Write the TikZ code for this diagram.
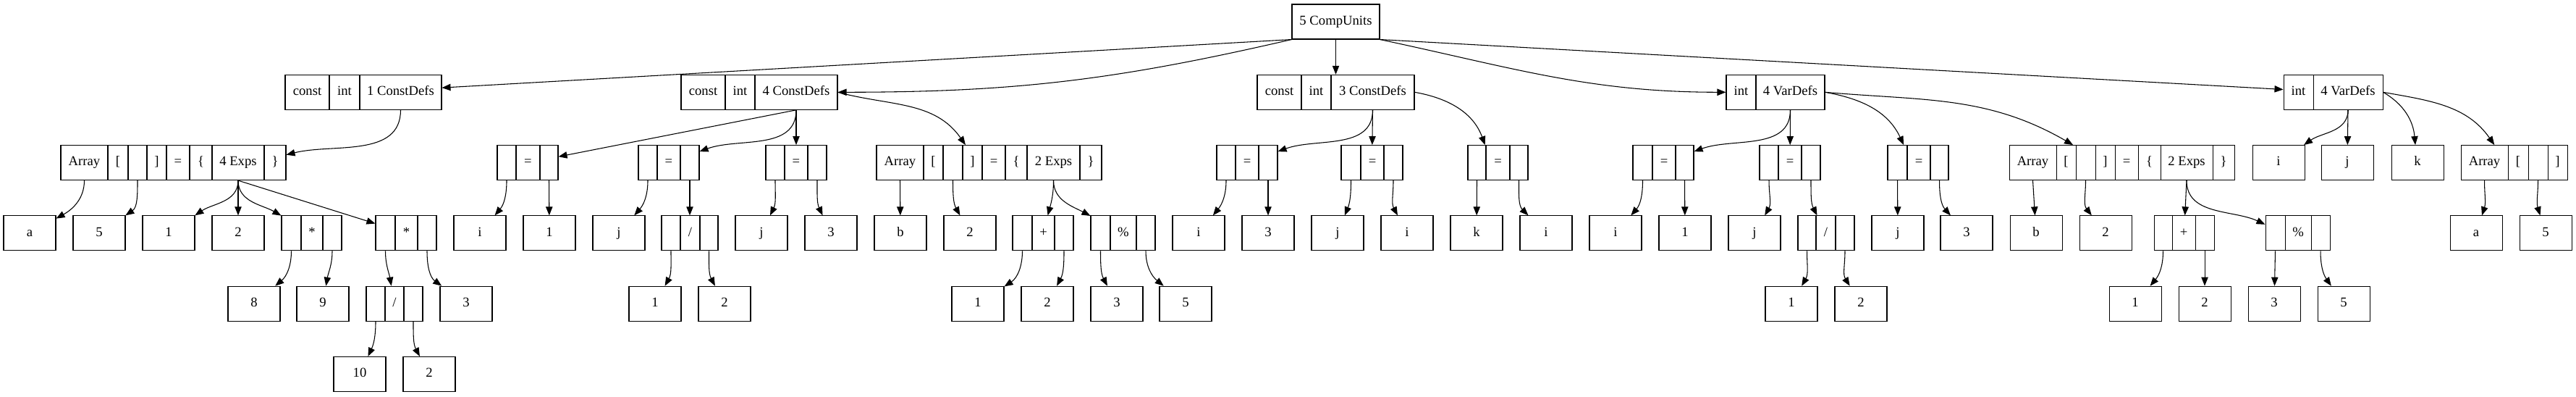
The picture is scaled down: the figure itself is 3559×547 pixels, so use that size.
\documentclass[tikz,border=0pt]{standalone}
\usepackage{fontspec}
\setmainfont{Liberation Serif}
\usetikzlibrary{arrows.meta}
\newcommand\gvcell[5]{\node[box, minimum width={0.75pt*(#3-#2)}] (#1) at ({(#2+#3)/2},#4) {#5};}
\newcommand\gvleaf[4]{\gvcell{#1}{#2}{#2+72}{#3}{#4}}
\newcommand\gvop[7]{\gvcell{#1}{#2}{#5}{#6}{}\gvcell{#1l}{#2}{#3}{#6}{}\gvcell{#1m}{#3}{#4}{#6}{#7}\gvcell{#1r}{#4}{#5}{#6}{}}
\def\rkA{517}\def\rkB{419.7}\def\rkC{322.4}\def\rkD{225.1}\def\rkE{127.8}\def\rkF{30.5}
\begin{document}
\begin{tikzpicture}[x=0.75pt,y=0.75pt,
  box/.style={draw, line width=0.8pt, minimum height=36pt, inner sep=0pt, text height=9.5pt, text depth=3pt, font=\fontsize{14pt}{16pt}\selectfont},
  gvedge/.style={-{Triangle[length=9pt,width=7pt]}, line width=0.8pt},
  dn/.style={out=-90,in=#1}]
\useasboundingbox (0,0) rectangle (3559,547);
% rank 0
\gvcell{cu}{1785}{1906}{\rkA}{5 CompUnits}
% rank 1
\gvcell{cd1}{394}{610}{\rkB}{}
\gvcell{cd1a}{394}{455}{\rkB}{const}
\gvcell{cd1b}{455}{497}{\rkB}{int}
\gvcell{cd1c}{497}{610}{\rkB}{1 ConstDefs}
\gvcell{cd4}{941}{1157}{\rkB}{}
\gvcell{cd4a}{941}{1002}{\rkB}{const}
\gvcell{cd4b}{1002}{1043}{\rkB}{int}
\gvcell{cd4c}{1043}{1157}{\rkB}{4 ConstDefs}
\gvcell{cd3}{1737}{1954}{\rkB}{}
\gvcell{cd3a}{1737}{1798}{\rkB}{const}
\gvcell{cd3b}{1798}{1839}{\rkB}{int}
\gvcell{cd3c}{1839}{1954}{\rkB}{3 ConstDefs}
\gvcell{vda}{2385}{2521}{\rkB}{}
\gvcell{vdaa}{2385}{2426}{\rkB}{int}
\gvcell{vdac}{2426}{2521}{\rkB}{4 VarDefs}
\gvcell{vdb}{3155}{3292}{\rkB}{}
\gvcell{vdba}{3155}{3196}{\rkB}{int}
\gvcell{vdbc}{3196}{3292}{\rkB}{4 VarDefs}
% rank 2
\gvcell{ar1}{84}{395}{\rkC}{}
\gvcell{ar1a}{84}{149}{\rkC}{Array}
\gvcell{ar1b}{149}{177}{\rkC}{[}
\gvcell{ar1c}{177}{203}{\rkC}{}
\gvcell{ar1d}{203}{230}{\rkC}{]}
\gvcell{ar1e}{230}{262}{\rkC}{=}
\gvcell{ar1f}{262}{293}{\rkC}{\{}
\gvcell{ar1g}{293}{365}{\rkC}{4 Exps}
\gvcell{ar1h}{365}{395}{\rkC}{\}}
\gvop{eqA}{687}{713}{746}{771}{\rkC}{=}
\gvop{eqB}{882}{908}{940}{966}{\rkC}{=}
\gvop{eqC}{1058}{1084}{1116}{1142}{\rkC}{=}
\gvcell{ar4}{1211}{1522}{\rkC}{}
\gvcell{ar4a}{1211}{1276}{\rkC}{Array}
\gvcell{ar4b}{1276}{1303}{\rkC}{[}
\gvcell{ar4c}{1303}{1330}{\rkC}{}
\gvcell{ar4d}{1330}{1357}{\rkC}{]}
\gvcell{ar4e}{1357}{1389}{\rkC}{=}
\gvcell{ar4f}{1389}{1419}{\rkC}{\{}
\gvcell{ar4g}{1419}{1492}{\rkC}{2 Exps}
\gvcell{ar4h}{1492}{1522}{\rkC}{\}}
\gvop{eqD}{1681}{1707}{1739}{1765}{\rkC}{=}
\gvop{eqE}{1853}{1880}{1912}{1938}{\rkC}{=}
\gvop{eqF}{2028}{2053}{2086}{2111}{\rkC}{=}
\gvop{eqG}{2256}{2283}{2315}{2340}{\rkC}{=}
\gvop{eqH}{2431}{2457}{2489}{2515}{\rkC}{=}
\gvop{eqI}{2608}{2635}{2667}{2692}{\rkC}{=}
\gvcell{ar5}{2776}{3087}{\rkC}{}
\gvcell{ar5a}{2776}{2841}{\rkC}{Array}
\gvcell{ar5b}{2841}{2868}{\rkC}{[}
\gvcell{ar5c}{2868}{2895}{\rkC}{}
\gvcell{ar5d}{2895}{2922}{\rkC}{]}
\gvcell{ar5e}{2922}{2954}{\rkC}{=}
\gvcell{ar5f}{2954}{2985}{\rkC}{\{}
\gvcell{ar5g}{2985}{3057}{\rkC}{2 Exps}
\gvcell{ar5h}{3057}{3087}{\rkC}{\}}
\gvleaf{vi}{3112}{\rkC}{i}
\gvleaf{vj}{3207}{\rkC}{j}
\gvleaf{vk}{3304}{\rkC}{k}
\gvcell{ar6}{3400}{3547}{\rkC}{}
\gvcell{ar6a}{3400}{3465}{\rkC}{Array}
\gvcell{ar6b}{3465}{3493}{\rkC}{[}
\gvcell{ar6c}{3493}{3520}{\rkC}{}
\gvcell{ar6d}{3520}{3547}{\rkC}{]}
% rank 3
\gvleaf{la}{5}{\rkD}{a}
\gvleaf{lfive}{101}{\rkD}{5}
\gvleaf{lone}{197}{\rkD}{1}
\gvleaf{ltwo}{293}{\rkD}{2}
\gvop{mulA}{389}{416}{446}{472}{\rkD}{*}
\gvop{mulB}{519}{546}{577}{603}{\rkD}{*}
\gvleaf{tai}{627}{\rkD}{i}
\gvleaf{taone}{723}{\rkD}{1}
\gvleaf{taj}{819}{\rkD}{j}
\gvop{divA}{914}{940}{967}{992}{\rkD}{/}
\gvleaf{tbj}{1016}{\rkD}{j}
\gvleaf{tbthree}{1112}{\rkD}{3}
\gvleaf{tbb}{1208}{\rkD}{b}
\gvleaf{tbtwo}{1304}{\rkD}{2}
\gvop{addA}{1399}{1426}{1457}{1483}{\rkD}{+}
\gvop{modA}{1507}{1534}{1570}{1596}{\rkD}{\%}
\gvleaf{tci}{1620}{\rkD}{i}
\gvleaf{tcthree}{1716}{\rkD}{3}
\gvleaf{tcj}{1812}{\rkD}{j}
\gvleaf{tcii}{1908}{\rkD}{i}
\gvleaf{tck}{2004}{\rkD}{k}
\gvleaf{tciii}{2100}{\rkD}{i}
\gvleaf{tdi}{2196}{\rkD}{i}
\gvleaf{tdone}{2292}{\rkD}{1}
\gvleaf{tdj}{2388}{\rkD}{j}
\gvop{divB}{2484}{2509}{2536}{2562}{\rkD}{/}
\gvleaf{tdjj}{2586}{\rkD}{j}
\gvleaf{tdthree}{2681}{\rkD}{3}
\gvleaf{tdb}{2777}{\rkD}{b}
\gvleaf{tdtwo}{2873}{\rkD}{2}
\gvop{addB}{2976}{3001}{3033}{3059}{\rkD}{+}
\gvop{modB}{3130}{3157}{3193}{3219}{\rkD}{\%}
\gvleaf{tea}{3385}{\rkD}{a}
\gvleaf{tefive}{3481}{\rkD}{5}
% rank 4
\gvleaf{feight}{315}{\rkE}{8}
\gvleaf{fnine}{410}{\rkE}{9}
\gvop{divZ}{506}{532}{558}{584}{\rkE}{/}
\gvleaf{fthree}{608}{\rkE}{3}
\gvleaf{fone}{869}{\rkE}{1}
\gvleaf{ftwo}{965}{\rkE}{2}
\gvleaf{fbone}{1315}{\rkE}{1}
\gvleaf{fbtwo}{1411}{\rkE}{2}
\gvleaf{fbthree}{1507}{\rkE}{3}
\gvleaf{fbfive}{1602}{\rkE}{5}
\gvleaf{fcone}{2439}{\rkE}{1}
\gvleaf{fctwo}{2535}{\rkE}{2}
\gvleaf{fdone}{2914}{\rkE}{1}
\gvleaf{fdtwo}{3010}{\rkE}{2}
\gvleaf{fdthree}{3106}{\rkE}{3}
\gvleaf{fdfive}{3202}{\rkE}{5}
% rank 5
\gvleaf{vten}{461}{\rkF}{10}
\gvleaf{vtwo}{557}{\rkF}{2}
% edges from CompUnits
\draw[gvedge] (cu.south west) -- (cd1);
\draw[gvedge] (cu.south west) to[out=193,in=0] (cd4);
\draw[gvedge] (cu) -- (cd3);
\draw[gvedge] (cu.south east) to[out=-12,in=180] (vda);
\draw[gvedge] (cu.south east) -- (vdb);
% rank 1 -> 2
\draw[gvedge] (cd1c.south) to[out=-90,in=14] (ar1.4);
\draw[gvedge] (cd4c.south) -- (eqA);
\draw[gvedge] (cd4c.south) to[dn=20] (eqB);
\draw[gvedge] (cd4c.south) -- (eqC);
\draw[gvedge] (cd4c.east) to[out=-15,in=125] (ar4.143);
\draw[gvedge] (cd3c.south) to[dn=20] (eqD);
\draw[gvedge] (cd3c.south) -- (eqE);
\draw[gvedge] (cd3c.east) to[out=-10,in=110] (eqF.126);
\draw[gvedge] (vdac.south) to[dn=20] (eqG);
\draw[gvedge] (vdac.south) -- (eqH);
\draw[gvedge] (vdac.east) to[out=-10,in=115] (eqI.129);
\draw[gvedge] (vdac.east) to[out=-5,in=150] (ar5.160);
\draw[gvedge] (vdbc.south) to[dn=35] (vi);
\draw[gvedge] (vdbc.south) -- (vj);
\draw[gvedge] (vdbc.east) to[out=-30,in=95] (vk.97);
\draw[gvedge] (vdbc.east) to[out=-10,in=125] (ar6.138);
% rank 2 -> 3
\draw[gvedge] (ar1a.south) to[dn=29] (la);
\draw[gvedge] (ar1c.south) to[dn=34] (lfive);
\draw[gvedge] (ar1g.south) to[dn=34] (lone);
\draw[gvedge] (ar1g.south) -- (ltwo);
\draw[gvedge] (ar1g.south) to[dn=150] (mulA);
\draw[gvedge] (ar1g.south) -- (mulB);
\draw[gvedge] (eqAl.south) to[dn=50] (tai);
\draw[gvedge] (eqAr.south) -- (taone);
\draw[gvedge] (eqBl.south) to[dn=49] (taj);
\draw[gvedge] (eqBr.south) -- (divA);
\draw[gvedge] (eqCl.south) to[dn=64] (tbj);
\draw[gvedge] (eqCr.south) to[dn=115] (tbthree);
\draw[gvedge] (ar4a.south) -- (tbb);
\draw[gvedge] (ar4c.south) to[dn=119] (tbtwo);
\draw[gvedge] (ar4g.south) to[dn=75] (addA);
\draw[gvedge] (ar4g.south) to[dn=152] (modA);
\draw[gvedge] (eqDl.south) to[dn=51] (tci);
\draw[gvedge] (eqDr.south) -- (tcthree);
\draw[gvedge] (eqEl.south) to[dn=68] (tcj);
\draw[gvedge] (eqEr.south) to[dn=118] (tcii);
\draw[gvedge] (eqFl.south) -- (tck);
\draw[gvedge] (eqFr.south) to[dn=135] (tciii);
\draw[gvedge] (eqGl.south) to[dn=49] (tdi);
\draw[gvedge] (eqGr.south) -- (tdone);
\draw[gvedge] (eqHl.south) to[dn=60] (tdj);
\draw[gvedge] (eqHr.south) to[dn=117] (divB);
\draw[gvedge] (eqIl.south) -- (tdjj);
\draw[gvedge] (eqIr.south) to[dn=132] (tdthree);
\draw[gvedge] (ar5a.south) -- (tdb);
\draw[gvedge] (ar5c.south) to[dn=128] (tdtwo);
\draw[gvedge] (ar5g.south) -- (addB);
\draw[gvedge] (ar5g.south) to[out=-90,in=155] (modB.165);
\draw[gvedge] (ar6a.south) to[dn=72] (tea);
\draw[gvedge] (ar6c.south) to[dn=107] (tefive);
% rank 3 -> 4
\draw[gvedge] (mulAl.south) to[dn=40] (feight);
\draw[gvedge] (mulAr.south) to[dn=80] (fnine);
\draw[gvedge] (mulBl.south) to[dn=100] (divZ);
\draw[gvedge] (mulBr.south) to[dn=144] (fthree);
\draw[gvedge] (divAl.south) to[dn=61] (fone);
\draw[gvedge] (divAr.south) to[dn=118] (ftwo);
\draw[gvedge] (addAl.south) to[dn=33] (fbone);
\draw[gvedge] (addAr.south) to[dn=62] (fbtwo);
\draw[gvedge] (modAl.south) to[dn=118] (fbthree);
\draw[gvedge] (modAr.south) to[dn=141] (fbfive);
\draw[gvedge] (divBl.south) to[dn=60] (fcone);
\draw[gvedge] (divBr.south) to[dn=122] (fctwo);
\draw[gvedge] (addBl.south) to[dn=50] (fdone);
\draw[gvedge] (addBr.south) -- (fdtwo);
\draw[gvedge] (modBl.south) -- (fdthree);
\draw[gvedge] (modBr.south) to[dn=125] (fdfive);
% rank 4 -> 5
\draw[gvedge] (divZl.south) to[dn=65] (vten);
\draw[gvedge] (divZr.south) to[dn=118] (vtwo);
\end{tikzpicture}
\end{document}
